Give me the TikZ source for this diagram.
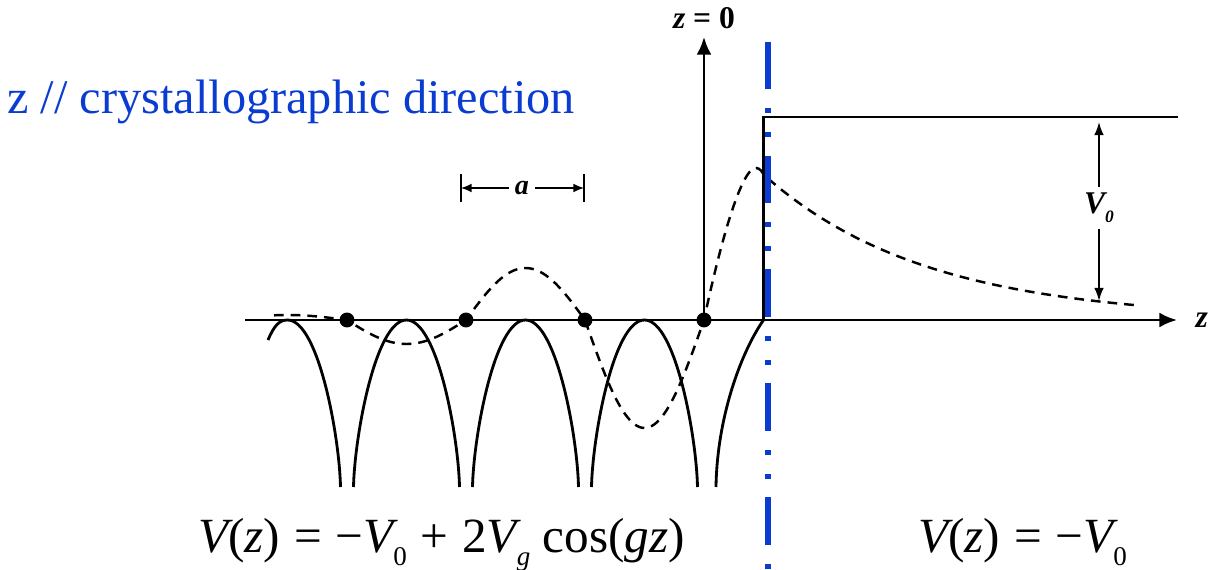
\documentclass[tikz,border=0pt]{standalone}
\usepackage{fontspec}
\setmainfont{Liberation Serif}
\newfontfamily\timesfont{Liberation Serif}
\usepackage{graphicx}
\usepackage{tikz}
\usetikzlibrary{arrows.meta,positioning}
\definecolor{surfblue}{RGB}{10,60,210}
\newcommand{\dsub}[1]{\raisebox{-0.27em}{\scalebox{0.55}{#1}}}
\newcommand{\wsp}{\hspace{0.28em}}

\begin{document}
\begin{tikzpicture}[x=0.02cm,y=0.02cm,
    axis/.style={line width=1.6pt, -{Latex[length=10pt,width=8.5pt]}},
    pot/.style={line width=1.6pt},
    wave/.style={line width=1.4pt, dash pattern=on 5.5pt off 4pt},
    atom/.style={circle, fill=black, inner sep=0pt, minimum size=8.5pt},
    lbl/.style={font=\timesfont\fontsize{18}{20}\selectfont\bfseries},
    eqn/.style={font=\timesfont\fontsize{28}{32}\selectfont, anchor=base west, inner sep=0pt}]
  \useasboundingbox (0,0) rectangle (1211,569);
  % axes
  \coordinate (zl) at (245,249);
  \coordinate (zr) at (1177,249);
  \coordinate (O) at (704,249);
  \coordinate (zt) at (704,532);
  \draw[axis] (zl) -- (zr);
  \draw[axis] (O) -- (zt);
  \node[lbl, right=7pt] (zlab) at (zr) {\itshape z};
  \node[lbl, above=1pt] (z0) at (zt) {{\itshape z} = 0};
  % step at the surface
  \coordinate (s0) at (763.5,249);
  \coordinate (s1) at (763.5,452);
  \coordinate (s2) at (1178,452);
  \draw[pot] (s0) -- (s1) -- (s2);
  % V_0
  \node[lbl] (V0) at (1099,361) {\itshape V\dsub{0}};
  \coordinate (vt) at (1099,447);
  \coordinate (vb) at (1099,268);
  \draw[line width=1pt, -{Latex[length=7.5pt,width=5.5pt]}] (V0) -- (vt);
  \draw[line width=1pt, -{Latex[length=7.5pt,width=5.5pt]}] (V0) -- (vb);
  % period a
  \node[lbl, font=\timesfont\fontsize{16}{18}\selectfont\bfseries] (alab) at (522,381) {\itshape a};
  \coordinate (al) at (461,381);
  \coordinate (ar) at (584,381);
  \draw[line width=1pt] ([yshift=-8pt]al) -- ([yshift=8pt]al);
  \draw[line width=1pt] ([yshift=-8pt]ar) -- ([yshift=8pt]ar);
  \draw[line width=0.9pt, -{Latex[length=6pt,width=5pt]}] (alab) -- (al);
  \draw[line width=0.9pt, -{Latex[length=6pt,width=5pt]}] (alab) -- (ar);
  % potential of the ions
  \draw[pot] (268,229) .. controls (274,243) and (279,249) .. (287.5,249)
    .. controls (318.5,249) and (339.5,132) .. (340.5,82);
  \foreach \p in {406.5,525.5,644.5}
    \draw[pot] (\p-53,82) .. controls (\p-52,132) and (\p-31,249) .. (\p,249)
      .. controls (\p+31,249) and (\p+52,132) .. (\p+53,82);
  \draw[pot] (716,82) .. controls (717,150) and (740,215) .. (s0);
  % wave function
  \draw[wave] plot[domain=274:347, samples=15, smooth] (\x, {249+5*sin((\x-704)*1.51261)})
    -- plot[domain=347:466, samples=25, smooth] (\x, {249+24*sin((\x-704)*1.51261)})
    -- plot[domain=466:585, samples=25, smooth] (\x, {249+52*sin((\x-704)*1.51261)})
    -- plot[domain=585:704, samples=25, smooth] (\x, {249+108*sin((\x-704)*1.51261)})
    .. controls (718,315) and (740,401) .. (756,401)
    .. controls (760,401) and (762,397) .. (764,394)
    -- plot[domain=764:1137, samples=40, smooth] (\x, {249+145*exp(-(\x-764)/163)});
  % atoms
  \foreach \i/\x in {1/347,2/466,3/585,4/704}
    \node[atom] (at\i) at (\x,249) {};
  % surface
  \coordinate (bt) at (768,527.3);
  \coordinate (bb) at (768,0);
  \draw[surfblue, line width=3.4pt,
    dash pattern=on 27.2pt off 10.8pt on 2.8pt off 10.8pt on 2.8pt off 10.4pt] (bt) -- (bb);
  % texts
  \node[font=\timesfont\fontsize{27.5}{30}\selectfont, text=surfblue, anchor=base west, inner sep=0pt]
    (dir) at (7,456) {z // crystallographic direction};
  \node[eqn] (eqin) at (198,17)
    {{\itshape V}(\textit{z})\wsp=\wsp−{\itshape V}\dsub{0}\wsp+\wsp2{\itshape V}\dsub{\itshape g} cos(\textit{gz})};
  \node[eqn] (eqout) at (918,17) {{\itshape V}(\textit{z})\wsp=\wsp−{\itshape V}\dsub{0}};
\end{tikzpicture}
\end{document}
